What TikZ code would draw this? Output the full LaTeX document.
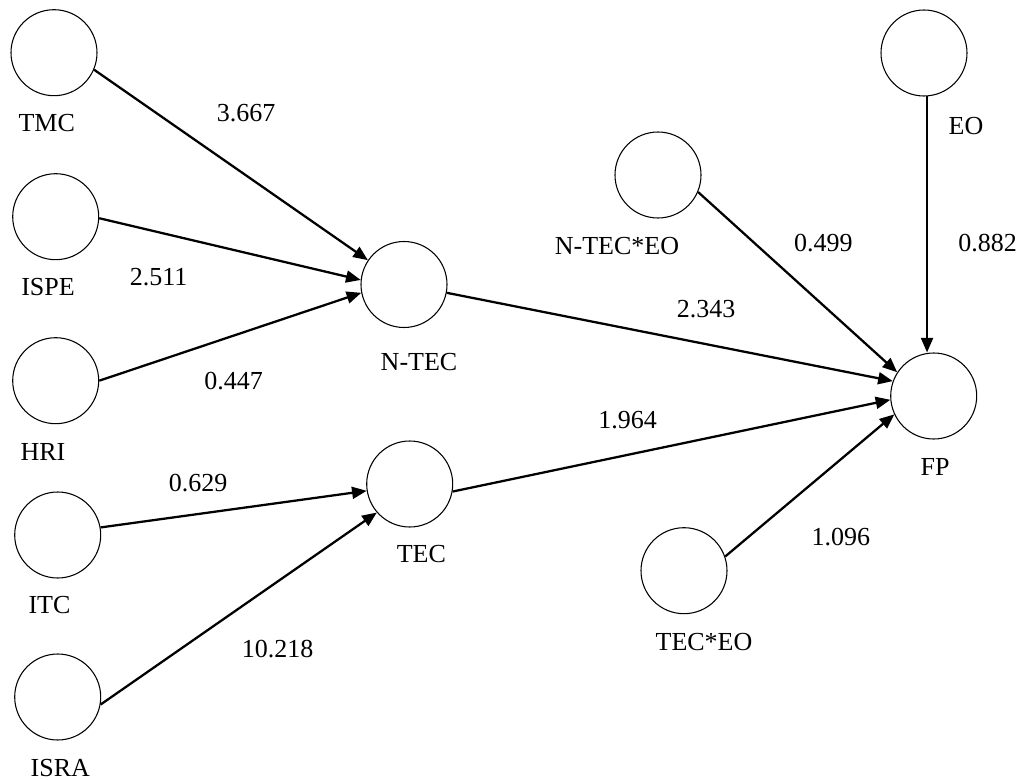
\documentclass[tikz,border=0pt]{standalone}
\usepackage{fontspec}
\setmainfont{Liberation Serif}
\usetikzlibrary{arrows.meta}
\begin{document}
\begin{tikzpicture}[x=0.75pt,y=-0.75pt,
  latent/.style={circle,draw,line width=0.8pt,minimum size=64.5pt,inner sep=0pt},
  lbl/.style={inner sep=0pt,font=\fontsize{19.5}{23}\selectfont},
  path/.style={line width=1.7pt,-{Triangle[length=11pt,width=9pt]}}]
\fill[white] (0,0) rectangle (1021,781);
\useasboundingbox (0,0) rectangle (1021,781);

% constructs
\node[latent] (tmc)   at (54,52.7)   {};
\node[latent] (ispe)  at (55.7,216.7) {};
\node[latent] (hri)   at (55.7,380.7) {};
\node[latent] (itc)   at (57.7,535)  {};
\node[latent] (isra)  at (57.7,697)  {};
\node[latent] (ntec)  at (404,284.5) {};
\node[latent] (tec)   at (409.7,484) {};
\node[latent] (ntxeo) at (658,175)   {};
\node[latent] (eo)    at (924,53)    {};
\node[latent] (fp)    at (933.7,396) {};
\node[latent] (texeo) at (684,570.7) {};

% construct names
\node[lbl] (tmcL)   at (46.7,123)  {TMC};
\node[lbl] (ispeL)  at (48,287)    {ISPE};
\node[lbl] (hriL)   at (43,452)    {HRI};
\node[lbl] (itcL)   at (49.5,605)  {ITC};
\node[lbl] (israL)  at (60.3,768.5) {ISRA};
\node[lbl] (ntecL)  at (419,362.5) {N-TEC};
\node[lbl] (tecL)   at (421.3,554) {TEC};
\node[lbl] (ntxeoL) at (617,246)   {N-TEC*EO};
\node[lbl] (eoL)    at (966,126)   {EO};
\node[lbl] (fpL)    at (935,466.5) {FP};
\node[lbl] (texeoL) at (704,642)   {TEC*EO};

% structural paths
\draw[path] (tmc.-23)  -- (ntec.146);
\draw[path] (ispe.-2)  -- (ntec.174);
\draw[path] (hri.0)    -- (ntec.191);
\draw[path] (itc.10)   -- (tec.189);
\draw[path] (isra.-10) -- (tec.221);
\draw[path] (ntec.-11.5) -- (fp.160);
\draw[path] (tec.-10)  -- (fp.185);
\draw[path] (ntxeo.-23.5) -- (fp.147);
\draw[path] (texeo.19) -- (fp.205);
\draw[path] (eo.-86)   -- (eo.-86 |- fp.north);

% path coefficients
\node[lbl] (c1)  at (246,113)     {3.667};
\node[lbl] (c2)  at (158.7,277)   {2.511};
\node[lbl] (c3)  at (233.7,381)   {0.447};
\node[lbl] (c4)  at (198,483)     {0.629};
\node[lbl] (c5)  at (277.5,649.5) {10.218};
\node[lbl] (c6)  at (706,309)     {2.343};
\node[lbl] (c7)  at (627.5,420.5) {1.964};
\node[lbl] (c8)  at (823.3,243.3) {0.499};
\node[lbl] (c9)  at (987.5,243.3) {0.882};
\node[lbl] (c10) at (840.8,537.5) {1.096};
\end{tikzpicture}
\end{document}
